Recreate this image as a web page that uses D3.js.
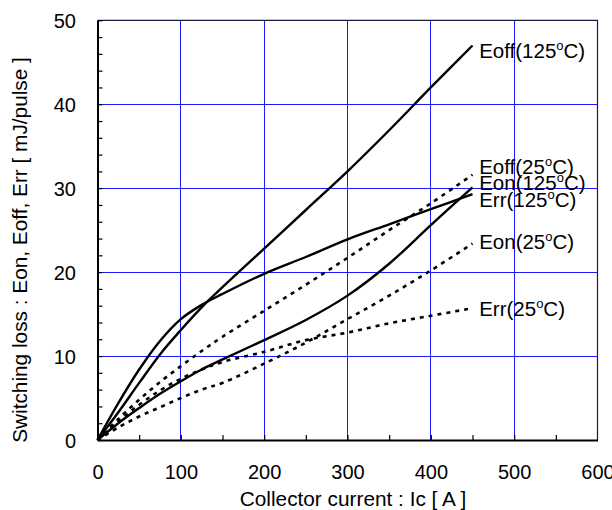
<!DOCTYPE html>
<html>
<head>
<meta charset="utf-8">
<script src="https://cdn.jsdelivr.net/npm/d3@7"></script>
<style>
  body { margin: 0; background: #fff; }
  svg { font-family: "Liberation Sans", Arial, sans-serif; }
</style>
</head>
<body>
<div id="chart"></div>
<script>
// collector current samples [A]
const current = [0, 25, 50, 75, 100, 125, 150, 200, 250, 300, 350, 400, 450];

// switching loss [mJ/pulse]
const eoff125 = [0, 3.3, 6.8, 10.2, 13.1, 15.8, 18.2, 22.8, 27.4, 32.0, 36.9, 42.0, 47.0];
const err125  = [0, 4.4, 8.4, 11.8, 14.4, 16.1, 17.4, 19.8, 21.8, 23.9, 25.7, 27.5, 29.3];
const eon125  = [0, 2.0, 3.8, 5.5, 7.0, 8.4, 9.6, 11.9, 14.3, 17.2, 21.0, 25.6, 30.1];
const eoff25  = [0, 2.5, 4.8, 6.9, 8.8, 10.6, 12.3, 15.4, 18.5, 21.7, 25.0, 28.2, 31.6];
const err25   = [0, 2.2, 4.2, 5.9, 7.3, 8.4, 9.3, 10.5, 11.9, 12.8, 13.9, 14.8, 15.7];
const eon25   = [0, 1.5, 2.8, 3.9, 5.0, 6.0, 6.8, 9.1, 11.6, 14.4, 17.2, 20.2, 23.4];

const seriesNames = ['Eoff', 'Err', 'Eon', 'Eoff', 'Err', 'Eon'];
const seriesTemps = ['125', '125', '125', '25', '25', '25'];

const xTicks = [0, 100, 200, 300, 400, 500, 600];
const yTicks = [0, 10, 20, 30, 40, 50];

const margin = {top: 20.3, right: 14.5, bottom: 70, left: 97.5};
const width = 612 - margin.left - margin.right;
const height = 510 - margin.top - margin.bottom;

const svg = d3.select('#chart')
    .append('svg')
    .attr('width', 612)
    .attr('height', 510);

const g = svg.append('g')
    .attr('transform', `translate(${margin.left},${margin.top})`);

const x = d3.scaleLinear().domain([0, 600]).range([0, width]);
const y = d3.scaleLinear().domain([0, 50]).range([height, 0]);

// grid
g.selectAll('.vgrid')
    .data(xTicks.slice(1, -1))
    .enter()
    .append('line')
    .attr('x1', d => x(d)).attr('x2', d => x(d))
    .attr('y1', 0).attr('y2', height)
    .attr('stroke', '#1a1aff')
    .attr('stroke-width', 1)
    .attr('shape-rendering', 'crispEdges');

g.selectAll('.hgrid')
    .data(yTicks.slice(1, -1))
    .enter()
    .append('line')
    .attr('x1', 0).attr('x2', width)
    .attr('y1', d => y(d)).attr('y2', d => y(d))
    .attr('stroke', '#1a1aff')
    .attr('stroke-width', 1)
    .attr('shape-rendering', 'crispEdges');

// top and right frame
g.append('path')
    .attr('d', `M0,0H${width}V${height}`)
    .attr('fill', 'none')
    .attr('stroke', '#1a1a40')
    .attr('stroke-width', 1.2);

// axes
const xAxis = d3.axisBottom(x)
    .tickValues(d3.range(0, 601, 50))
    .tickFormat(d => d % 100 === 0 ? d : '')
    .tickSizeInner(-5)
    .tickSizeOuter(0)
    .tickPadding(25);

const yAxis = d3.axisLeft(y)
    .tickValues(d3.range(0, 51, 2))
    .tickFormat(d => d % 10 === 0 ? d : '')
    .tickSizeInner(-5)
    .tickSizeOuter(0)
    .tickPadding(21.5);

const gx = g.append('g')
    .attr('transform', `translate(0,${height})`)
    .call(xAxis);

const gy = g.append('g').call(yAxis);

[gx, gy].forEach(a => {
    a.select('.domain').attr('stroke', '#000').attr('stroke-width', 2);
    a.selectAll('.tick line').attr('stroke', '#000').attr('stroke-width', 1.2);
    a.selectAll('.tick text')
        .attr('font-size', 20)
        .attr('font-family', '"Liberation Sans", Arial, sans-serif')
        .attr('fill', '#000');
});
gy.selectAll('.tick text').attr('dy', '0.38em');
gx.selectAll('.tick line').filter(d => d === 0 || d === 600).remove();

// curves
const allSeries = [eoff125, err125, eon125, eoff25, err25, eon25];
const line = d3.line()
    .x((d, i) => x(current[i]))
    .y(d => y(d))
    .curve(d3.curveCatmullRom.alpha(0.5));

g.selectAll('.curve')
    .data(allSeries)
    .enter()
    .append('path')
    .attr('class', 'curve')
    .attr('d', d => line(d))
    .attr('fill', 'none')
    .attr('stroke', '#000')
    .attr('stroke-width', (d, i) => seriesTemps[i] === '125' ? 2.4 : 2.6)
    .attr('stroke-dasharray', (d, i) => seriesTemps[i] === '125' ? null : '4,5');

// curve labels (left x in A, centre y in mJ), same order as the series
const labelX = [458, 458, 458, 458, 458, 458];
const labelY = [46.2, 28.4, 30.4, 32.4, 15.4, 23.4];

const labels = g.selectAll('.lbl')
    .data(seriesNames)
    .enter()
    .append('text')
    .attr('class', 'lbl')
    .attr('x', (d, i) => x(labelX[i]))
    .attr('y', (d, i) => y(labelY[i]) + 5.5)
    .attr('font-size', 20.5)
    .attr('fill', '#000');

labels.append('tspan').text((d, i) => `${d}(${seriesTemps[i]}`);
labels.append('tspan').attr('font-size', 13).attr('dy', -8).text('o');
labels.append('tspan').attr('dy', 8).text('C)');

// axis titles
svg.append('text')
    .attr('transform', 'translate(353, 506)')
    .style('text-anchor', 'middle')
    .attr('font-size', 20.8)
    .text('Collector current : Ic [ A ]');

svg.append('text')
    .attr('transform', 'translate(27, 250) rotate(-90)')
    .style('text-anchor', 'middle')
    .attr('font-size', 20.8)
    .text('Switching loss : Eon, Eoff, Err [ mJ/pulse ]');
</script>
</body>
</html>
